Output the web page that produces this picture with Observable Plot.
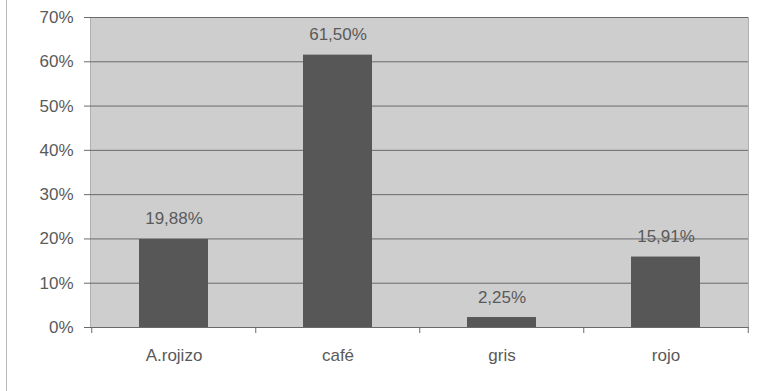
<!DOCTYPE html>
<html>
<head>
<meta charset="utf-8">
<script src="https://cdn.jsdelivr.net/npm/d3@7"></script>
<script src="https://cdn.jsdelivr.net/npm/@observablehq/plot@0.6"></script>
<style>
  html, body { margin: 0; padding: 0; background: #ffffff; }
  #chart { position: relative; width: 764px; height: 391px; }
  #frame { position: absolute; left: 6px; top: 0; width: 1px; height: 391px; background: #b8b8b8; }
</style>
</head>
<body>
<div id="chart"><div id="frame"></div></div>
<script>
const categories = ["A.rojizo", "café", "gris", "rojo"];
const values = [19.88, 61.50, 2.25, 15.91];
const valueLabels = ["19,88%", "61,50%", "2,25%", "15,91%"];
const yTicks = [0, 10, 20, 30, 40, 50, 60, 70];

const data = categories.map((c, i) => ({cat: c, v: values[i], label: valueLabels[i]}));

const W = 764, H = 391;
const mL = 90, mR = 16, mT = 17, mB = 64;
const step = (W - mL - mR) / categories.length;
const textColor = "#5a5a5a";
const axisColor = "#6a6a6a";
const font = "Liberation Sans, Arial, sans-serif";
const fs = 17;

const plot = Plot.plot({
  width: W,
  height: H,
  marginLeft: mL,
  marginRight: mR,
  marginTop: mT,
  marginBottom: mB,
  style: { fontFamily: font, fontSize: fs + "px", color: textColor, background: "transparent" },
  x: { domain: categories, paddingInner: 0.58, paddingOuter: 0.29, label: null, axis: null },
  y: { domain: [0, 70], label: null, axis: null },
  marks: [
    Plot.frame({ fill: "#cecece", stroke: "#b0b0b0" }),
    Plot.ruleY(yTicks, { stroke: axisColor, strokeWidth: 1 }),
    Plot.barY(data, { x: "cat", y: "v", fill: "#575757" }),
    Plot.text(data, { x: "cat", y: "v", text: "label", lineAnchor: "bottom", dy: -15, fill: textColor, fontSize: fs }),
    // y axis
    Plot.axisY(yTicks, { tickFormat: d => d + "%", tickSize: 6, stroke: axisColor, fill: textColor, fontSize: fs, tickPadding: 11, label: null }),
    // x axis baseline
    Plot.ruleY([0], { stroke: axisColor }),
    // boundary ticks between categories
    Plot.axisX(categories, { tickSize: 6, dx: -step / 2, tickFormat: () => "", stroke: axisColor, label: null }),
    Plot.axisX(categories.slice(-1), { tickSize: 6, dx: step / 2, tickFormat: () => "", stroke: axisColor, label: null }),
    // category labels
    Plot.axisX(categories, { tickSize: 0, tickPadding: 21, fill: textColor, fontSize: fs, label: null })
  ]
});
document.getElementById("chart").appendChild(plot);
</script>
</body>
</html>
